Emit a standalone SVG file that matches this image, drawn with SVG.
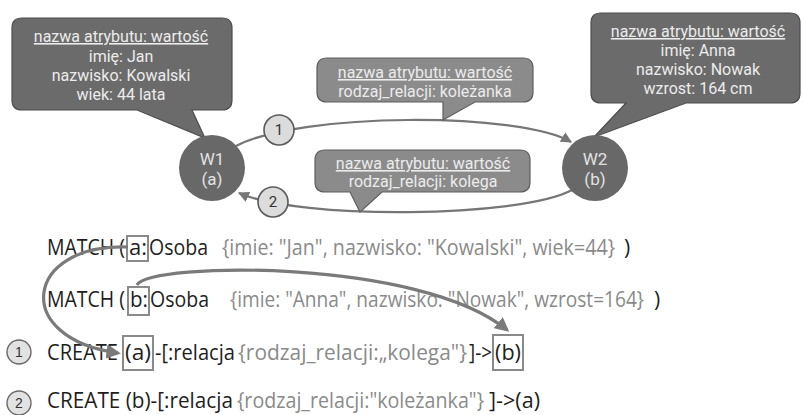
<svg xmlns="http://www.w3.org/2000/svg" width="803" height="415" viewBox="0 0 803 415">
  <style>
    .callout-dark { fill: #6b6b6b; stroke: #4d4d4d; stroke-width: 1.2; }
    .callout-mid { fill: #8b8b8b; stroke: #5e5e5e; stroke-width: 1.2; }
    .ct { font-family: Roboto, "Liberation Sans", sans-serif; font-size: 16px; fill: #ececec; text-anchor: middle; }
    .hdr { text-decoration: underline; }
    .node { fill: #686868; }
    .nt { font-family: Roboto, "Liberation Sans", sans-serif; font-size: 17px; fill: #e2e2e2; text-anchor: middle; }
    .badge { fill: #dcdcdc; stroke: #5a5a5a; stroke-width: 1.6; }
    .bt { font-family: Roboto, "Liberation Sans", sans-serif; font-size: 15px; fill: #333; text-anchor: middle; }
    .edge { fill: none; stroke: #767676; stroke-width: 2.2; }
    .link { fill: none; stroke: #7a7a7a; stroke-width: 3.2; }
    .code { font-family: "Open Sans", "Liberation Sans", sans-serif; font-size: 21px; fill: #1e1e1e; }
    .prop { fill: #8a8a8a; }
    .hl { fill: none; stroke: #8a8a8a; stroke-width: 2; }
    .cb { fill: #e2e2e2; stroke: #6a6a6a; stroke-width: 1.4; }
    .cbt { font-family: "Liberation Sans", sans-serif; font-size: 14px; fill: #333; text-anchor: middle; }
  </style>
  <defs>
    <marker id="arr" viewBox="0 0 10 10" refX="9" refY="5" markerWidth="5" markerHeight="5" orient="auto">
      <path d="M0,0 L10,5 L0,10 Z" fill="#767676"/>
    </marker>
    <marker id="arrBig" viewBox="0 0 10 10" refX="8" refY="5" markerWidth="4.5" markerHeight="4.5" orient="auto">
      <path d="M0,0 L10,5 L0,10 Z" fill="#7a7a7a"/>
    </marker>
  </defs>

  <rect width="803" height="415" fill="#ffffff"/>

  <!-- relationship arcs between the two nodes -->
  <g id="connectors">
    <path class="edge" d="M236,146 C300,112 520,112 571,142" marker-end="url(#arr)"/>
    <path class="edge" d="M572,190 C520,218 300,220 239,193" marker-end="url(#arr)"/>
  </g>

  <!-- attribute callouts -->
  <g id="callout-w1">
    <path class="callout-dark" d="M22,18 H222 Q232,18 232,28 V100 Q232,110 222,110 H192 L205,138 L137,110 H22 Q12,110 12,100 V28 Q12,18 22,18 Z"/>
    <text class="ct hdr" x="121" y="42">nazwa atrybutu: wartość</text>
    <text class="ct" x="121" y="62">imię: Jan</text>
    <text class="ct" x="121" y="81">nazwisko: Kowalski</text>
    <text class="ct" x="121" y="100">wiek: 44 lata</text>
  </g>

  <g id="callout-w2">
    <path class="callout-dark" d="M601,13 H790 Q800,13 800,23 V93 Q800,103 790,103 H686 L594,137 L626,103 H601 Q591,103 591,93 V23 Q591,13 601,13 Z"/>
    <text class="ct hdr" x="698" y="37">nazwa atrybutu: wartość</text>
    <text class="ct" x="698" y="56">imię: Anna</text>
    <text class="ct" x="698" y="75">nazwisko: Nowak</text>
    <text class="ct" x="698" y="94">wzrost: 164 cm</text>
  </g>

  <g id="callout-rel1">
    <path class="callout-mid" d="M327,58 H523 Q533,58 533,68 V92 Q533,102 523,102 H475 L443,120 L443,102 H327 Q317,102 317,92 V68 Q317,58 327,58 Z"/>
    <text class="ct hdr" x="425" y="78">nazwa atrybutu: wartość</text>
    <text class="ct" x="425" y="97">rodzaj_relacji: koleżanka</text>
  </g>

  <g id="callout-rel2">
    <path class="callout-mid" d="M325,150 H520 Q530,150 530,160 V182 Q530,192 520,192 H382 L360,212 L350,192 H325 Q315,192 315,182 V160 Q315,150 325,150 Z"/>
    <text class="ct hdr" x="423" y="169">nazwa atrybutu: wartość</text>
    <text class="ct" x="423" y="187">rodzaj_relacji: kolega</text>
  </g>

  <!-- graph nodes -->
  <g id="node-w1">
    <circle class="node" cx="212" cy="168" r="33"/>
    <text class="nt" x="212" y="165">W1</text>
    <text class="nt" x="212" y="185">(a)</text>
  </g>
  <g id="node-w2">
    <circle class="node" cx="595" cy="168" r="33"/>
    <text class="nt" x="595" y="165">W2</text>
    <text class="nt" x="595" y="185">(b)</text>
  </g>

  <!-- step badges on the arcs -->
  <g id="badge-1">
    <circle class="badge" cx="279" cy="130" r="15"/>
    <text class="bt" x="279" y="135">1</text>
  </g>
  <g id="badge-2">
    <circle class="badge" cx="273" cy="202" r="15"/>
    <text class="bt" x="273" y="207">2</text>
  </g>

  <!-- Cypher statements -->
  <g id="code-match-a">
    <text class="code" x="47" y="255" textLength="78" lengthAdjust="spacingAndGlyphs">MATCH (</text>
    <rect class="hl" x="127" y="236" width="21" height="25"/>
    <text class="code" x="129" y="255" textLength="18" lengthAdjust="spacingAndGlyphs">a:</text>
    <text class="code" x="149" y="255" textLength="59" lengthAdjust="spacingAndGlyphs">Osoba</text>
    <text class="code prop" x="222" y="255" textLength="393" lengthAdjust="spacingAndGlyphs">{imie: "Jan", nazwisko: "Kowalski", wiek=44}</text>
    <text class="code" x="624" y="255">)</text>
  </g>

  <g id="code-match-b">
    <text class="code" x="47" y="307" textLength="78" lengthAdjust="spacingAndGlyphs">MATCH (</text>
    <rect class="hl" x="128" y="287" width="21" height="28"/>
    <text class="code" x="130" y="307" textLength="18" lengthAdjust="spacingAndGlyphs">b:</text>
    <text class="code" x="150" y="307" textLength="59" lengthAdjust="spacingAndGlyphs">Osoba</text>
    <text class="code prop" x="230" y="307" textLength="414" lengthAdjust="spacingAndGlyphs">{imie: "Anna", nazwisko: "Nowak", wzrost=164}</text>
    <text class="code" x="654" y="307">)</text>
  </g>

  <g id="code-create-1">
    <circle class="cb" cx="19" cy="352" r="12"/>
    <text class="cbt" x="19" y="357">1</text>
    <text class="code" x="47" y="360" textLength="71" lengthAdjust="spacingAndGlyphs">CREATE</text>
    <rect class="hl" x="123" y="336" width="30" height="34"/>
    <text class="code" x="125" y="360" textLength="26" lengthAdjust="spacingAndGlyphs">(a)</text>
    <text class="code" x="155" y="360" textLength="80" lengthAdjust="spacingAndGlyphs">-[:relacja</text>
    <text class="code prop" x="238" y="360" textLength="229" lengthAdjust="spacingAndGlyphs">{rodzaj_relacji:„kolega"}</text>
    <text class="code" x="469" y="360" textLength="23" lengthAdjust="spacingAndGlyphs">]-&gt;</text>
    <rect class="hl" x="493" y="335" width="30" height="35"/>
    <text class="code" x="495" y="360" textLength="26" lengthAdjust="spacingAndGlyphs">(b)</text>
  </g>

  <g id="code-create-2">
    <circle class="cb" cx="19" cy="403" r="12"/>
    <text class="cbt" x="19" y="408">2</text>
    <text class="code" x="47" y="408" textLength="186" lengthAdjust="spacingAndGlyphs">CREATE (b)-[:relacja</text>
    <text class="code prop" x="237" y="408" textLength="247" lengthAdjust="spacingAndGlyphs">{rodzaj_relacji:"koleżanka"}</text>
    <text class="code" x="489" y="408" textLength="51" lengthAdjust="spacingAndGlyphs">]-&gt;(a)</text>
  </g>

  <!-- variable reference arrows in the code -->
  <g id="code-links">
    <path class="link" d="M128,247 C25,243 10,338 118,353" marker-end="url(#arrBig)"/>
    <path class="link" d="M137,285 C150,262 420,258 507,330" marker-end="url(#arrBig)"/>
  </g>
</svg>
